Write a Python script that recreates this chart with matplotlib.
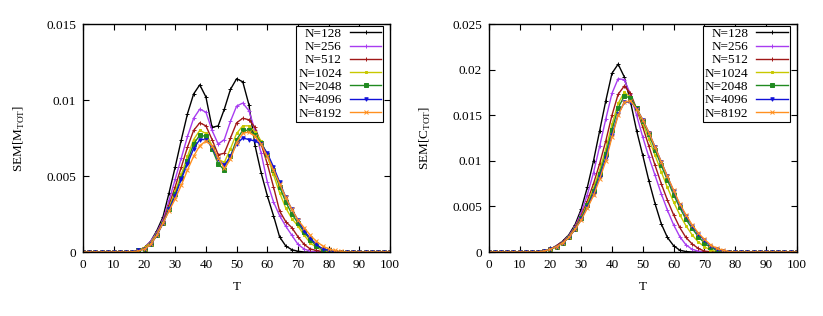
import matplotlib
matplotlib.use('Agg')
import matplotlib.pyplot as plt
from matplotlib.ticker import FuncFormatter

plt.rcParams['font.family'] = ['Liberation Serif', 'DejaVu Serif']
plt.rcParams['font.size'] = 9

# temperature grid (step 2)
T = [0, 2, 4, 6, 8, 10, 12, 14, 16, 18,
     20, 22, 24, 26, 28, 30, 32, 34, 36, 38,
     40, 42, 44, 46, 48, 50, 52, 54, 56, 58,
     60, 62, 64, 66, 68, 70, 72, 74, 76, 78,
     80, 82, 84, 86, 88, 90, 92, 94, 96, 98, 100]

labels = ['N=128', 'N=256', 'N=512', 'N=1024', 'N=2048', 'N=4096', 'N=8192']

# SEM[M_TOT] (left panel)
m128 = [0, 0, 0, 0, 0, 0, 0, 0, 0.00003, 0.0001,
        0.0003, 0.0007, 0.0014, 0.0023, 0.0039, 0.0056, 0.0074, 0.0091, 0.0104, 0.0110,
        0.0102, 0.0082, 0.0083, 0.0094, 0.0107, 0.0114, 0.0112, 0.0097, 0.0070, 0.0052,
        0.0037, 0.0024, 0.0010, 0.0004, 0.00015, 0.00005, 0, 0, 0, 0,
        0, 0, 0, 0, 0, 0, 0, 0, 0, 0, 0]
m256 = [0, 0, 0, 0, 0, 0, 0, 0, 0.00003, 0.0001,
        0.0003, 0.0007, 0.0013, 0.0021, 0.0034, 0.0048, 0.0062, 0.0076, 0.0088, 0.0094,
        0.0092, 0.0080, 0.0071, 0.0074, 0.0086, 0.0096, 0.0098, 0.0093, 0.0080, 0.0065,
        0.0046, 0.0033, 0.0024, 0.0017, 0.0011, 0.0005, 0.0002, 0.00005, 0, 0,
        0, 0, 0, 0, 0, 0, 0, 0, 0, 0, 0]
m512 = [0, 0, 0, 0, 0, 0, 0, 0, 0.00003, 0.0001,
        0.0003, 0.0006, 0.0012, 0.0020, 0.0031, 0.0043, 0.0056, 0.0069, 0.0080, 0.0085,
        0.0083, 0.0074, 0.0064, 0.0065, 0.0075, 0.0085, 0.0088, 0.0087, 0.0082, 0.0071,
        0.0058, 0.0043, 0.0027, 0.0020, 0.0016, 0.0010, 0.0005, 0.0002, 0.0001, 0.00003,
        0, 0, 0, 0, 0, 0, 0, 0, 0, 0, 0]
m1024 = [0, 0, 0, 0, 0, 0, 0, 0, 0.00002, 0.0001,
         0.0003, 0.0006, 0.0012, 0.0019, 0.0029, 0.0040, 0.0051, 0.0063, 0.0074, 0.0080,
         0.0078, 0.0070, 0.0061, 0.0059, 0.0068, 0.0078, 0.0083, 0.0083, 0.0079, 0.0073,
         0.0063, 0.0051, 0.0039, 0.0029, 0.0022, 0.0017, 0.0011, 0.0006, 0.0003, 0.0001,
         0.00003, 0, 0, 0, 0, 0, 0, 0, 0, 0, 0]
m2048 = [0, 0, 0, 0, 0, 0, 0, 0, 0.00002, 0.0001,
         0.0002, 0.0005, 0.0011, 0.0019, 0.0028, 0.0038, 0.0049, 0.0060, 0.0071, 0.0077,
         0.0076, 0.0068, 0.0058, 0.0054, 0.0063, 0.0074, 0.0080, 0.0080, 0.0077, 0.0072,
         0.0064, 0.0054, 0.0043, 0.0033, 0.0025, 0.0019, 0.0013, 0.0008, 0.0004, 0.0002,
         0.0001, 0.00003, 0, 0, 0, 0, 0, 0, 0, 0, 0]
m4096 = [0, 0, 0, 0, 0, 0, 0, 0, 0.00002, 0.0001,
         0.0002, 0.0005, 0.0011, 0.0019, 0.0028, 0.0037, 0.0048, 0.0058, 0.0068, 0.0074,
         0.0074, 0.0069, 0.0061, 0.0057, 0.0063, 0.0071, 0.0075, 0.0074, 0.0073, 0.0071,
         0.0065, 0.0056, 0.0046, 0.0036, 0.0028, 0.0021, 0.0014, 0.0009, 0.0005, 0.0002,
         0.0001, 0.00003, 0, 0, 0, 0, 0, 0, 0, 0, 0]
m8192 = [0, 0, 0, 0, 0, 0, 0, 0, 0.00002, 0.00006,
         0.0002, 0.0005, 0.0011, 0.0019, 0.0027, 0.0035, 0.0044, 0.0054, 0.0063, 0.0070,
         0.0073, 0.0070, 0.0062, 0.0055, 0.0061, 0.0072, 0.0078, 0.0079, 0.0076, 0.0071,
         0.0063, 0.0054, 0.0045, 0.0036, 0.0028, 0.0021, 0.0016, 0.0011, 0.0007, 0.0004,
         0.0002, 0.0001, 0.00004, 0, 0, 0, 0, 0, 0, 0, 0]

# SEM[C_TOT] (right panel)
c128 = [0, 0, 0, 0, 0, 0, 0, 0, 0.00003, 0.0001,
        0.0003, 0.0007, 0.0012, 0.0019, 0.0030, 0.0047, 0.0071, 0.0100, 0.0133, 0.0166,
        0.0196, 0.0206, 0.0192, 0.0165, 0.0133, 0.0106, 0.0078, 0.0053, 0.0031, 0.0016,
        0.0007, 0.0002, 0.00005, 0, 0, 0, 0, 0, 0, 0,
        0, 0, 0, 0, 0, 0, 0, 0, 0, 0, 0]
c256 = [0, 0, 0, 0, 0, 0, 0, 0, 0.00003, 0.0001,
        0.0003, 0.0007, 0.0011, 0.0018, 0.0028, 0.0043, 0.0063, 0.0087, 0.0116, 0.0146,
        0.0174, 0.0190, 0.0189, 0.0173, 0.0150, 0.0126, 0.0104, 0.0084, 0.0064, 0.0046,
        0.0030, 0.0017, 0.0008, 0.0003, 0.0001, 0, 0, 0, 0, 0,
        0, 0, 0, 0, 0, 0, 0, 0, 0, 0, 0]
c512 = [0, 0, 0, 0, 0, 0, 0, 0, 0.00003, 0.0001,
        0.0003, 0.0007, 0.0011, 0.0017, 0.0027, 0.0040, 0.0056, 0.0075, 0.0097, 0.0122,
        0.0150, 0.0173, 0.0182, 0.0174, 0.0157, 0.0137, 0.0116, 0.0095, 0.0075, 0.0057,
        0.0041, 0.0027, 0.0016, 0.0009, 0.0004, 0.0001, 0.00003, 0, 0, 0,
        0, 0, 0, 0, 0, 0, 0, 0, 0, 0, 0]
c1024 = [0, 0, 0, 0, 0, 0, 0, 0, 0.00002, 0.0001,
         0.0003, 0.0006, 0.0010, 0.0017, 0.0026, 0.0038, 0.0053, 0.0070, 0.0090, 0.0113,
         0.0140, 0.0163, 0.0175, 0.0170, 0.0157, 0.0141, 0.0124, 0.0106, 0.0088, 0.0071,
         0.0055, 0.0041, 0.0029, 0.0019, 0.0011, 0.0006, 0.0002, 0.00005, 0, 0,
         0, 0, 0, 0, 0, 0, 0, 0, 0, 0, 0]
c2048 = [0, 0, 0, 0, 0, 0, 0, 0, 0.00002, 0.0001,
         0.0003, 0.0006, 0.0010, 0.0016, 0.0025, 0.0037, 0.0051, 0.0067, 0.0086, 0.0108,
         0.0134, 0.0158, 0.0171, 0.0169, 0.0158, 0.0144, 0.0129, 0.0112, 0.0095, 0.0079,
         0.0063, 0.0049, 0.0036, 0.0026, 0.0017, 0.0010, 0.0005, 0.0002, 0.00005, 0,
         0, 0, 0, 0, 0, 0, 0, 0, 0, 0, 0]
c4096 = [0, 0, 0, 0, 0, 0, 0, 0, 0.00002, 0.0001,
         0.0003, 0.0006, 0.0010, 0.0016, 0.0025, 0.0036, 0.0049, 0.0064, 0.0082, 0.0103,
         0.0128, 0.0151, 0.0164, 0.0165, 0.0157, 0.0145, 0.0131, 0.0115, 0.0099, 0.0083,
         0.0067, 0.0052, 0.0040, 0.0029, 0.0020, 0.0013, 0.0007, 0.0003, 0.0001, 0.00003,
         0, 0, 0, 0, 0, 0, 0, 0, 0, 0, 0]
c8192 = [0, 0, 0, 0, 0, 0, 0, 0, 0.00002, 0.0001,
         0.0003, 0.0006, 0.0010, 0.0016, 0.0025, 0.0035, 0.0048, 0.0062, 0.0080, 0.0100,
         0.0126, 0.0150, 0.0164, 0.0166, 0.0157, 0.0145, 0.0131, 0.0115, 0.0099, 0.0083,
         0.0068, 0.0053, 0.0041, 0.0030, 0.0021, 0.0014, 0.0008, 0.0004, 0.0002, 0.00005,
         0, 0, 0, 0, 0, 0, 0, 0, 0, 0, 0]

colors = ['#000000', '#a83cf0', '#a01818', '#c8c800', '#208a20', '#1010d8', '#ff9020']
markers = ['+', '+', '+', 's', 's', 'v', 'x']
msizes = [2.5, 3, 2.5, 2, 2.5, 2.5, 2.5]

fig = plt.figure(figsize=(8.23, 3.16), dpi=100)
ax1 = fig.add_axes([0.101, 0.2025, 0.373, 0.7215])
ax2 = fig.add_axes([0.594, 0.2025, 0.374, 0.7215])

panels = [(ax1, [m128, m256, m512, m1024, m2048, m4096, m8192], 0.015, 0.005, 'SEM[M$_\\mathregular{TOT}$]'),
          (ax2, [c128, c256, c512, c1024, c2048, c4096, c8192], 0.025, 0.005, 'SEM[C$_\\mathregular{TOT}$]')]

for ax, series, ymax, ystep, ylab in panels:
    for i in range(len(series)):
        ax.plot(T, series[i], color=colors[i], marker=markers[i], ms=msizes[i],
                lw=1.0, mew=0.7, label=labels[i])
    ax.set_xlim(0, 100)
    ax.set_ylim(0, ymax)
    ax.set_xticks(range(0, 101, 10))
    ticks = []
    v = 0.0
    while v <= ymax + 1e-9:
        ticks.append(round(v, 4))
        v += ystep
    ax.set_yticks(ticks)
    ax.yaxis.set_major_formatter(FuncFormatter(lambda y, p: '%g' % y))
    ax.tick_params(direction='in', top=True, right=True, length=4, width=0.8,
                   labelsize=9.5, pad=5)
    ax.set_xlabel('T', fontsize=9.5, labelpad=7)
    ax.set_ylabel(ylab, fontsize=9.5, labelpad=14)
    for s in ax.spines.values():
        s.set_linewidth(1.0)
    leg = ax.legend(loc='upper right', bbox_to_anchor=(0.978, 0.993), markerfirst=False,
                    fancybox=False, edgecolor='black', framealpha=1, fontsize=9.5,
                    handlelength=2.4, labelspacing=0.08, borderpad=0.15, borderaxespad=0,
                    handletextpad=0.6, numpoints=1)
    leg.get_frame().set_linewidth(0.8)

fig.savefig('out.png', dpi=100)
